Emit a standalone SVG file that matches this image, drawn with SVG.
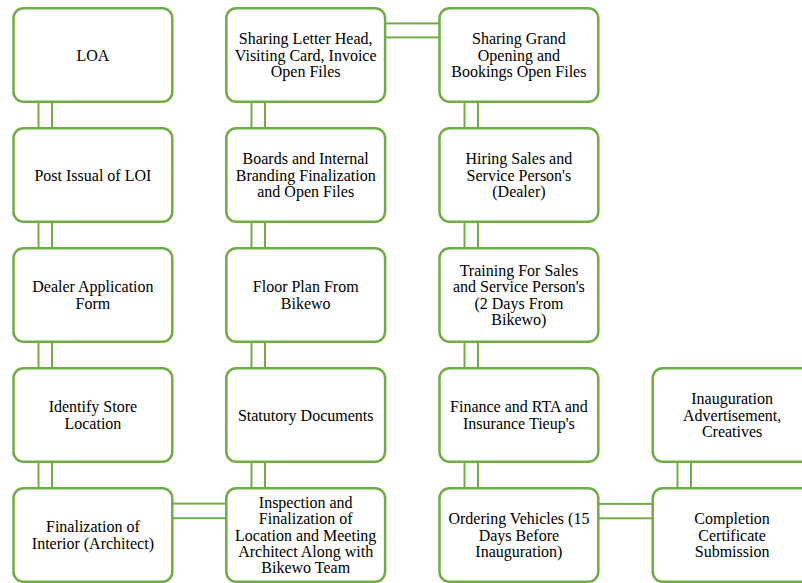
<svg xmlns="http://www.w3.org/2000/svg" width="802" height="583" viewBox="0 0 802 583">
<defs>
<style>
.box{fill:#ffffff;stroke:#70ad47;stroke-width:2.5}
.pipe{fill:#ffffff;stroke:#70ad47;stroke-width:2}
</style>
</defs>
<rect x="0" y="0" width="802" height="583" fill="#ffffff"/>
<g id="connectors">
<rect class="pipe" x="38.5" y="100" width="13.5" height="30"/>
<rect class="pipe" x="38.5" y="220" width="13.5" height="30"/>
<rect class="pipe" x="38.5" y="340" width="13.5" height="30"/>
<rect class="pipe" x="38.5" y="460" width="13.5" height="30"/>
<rect class="pipe" x="251.5" y="100" width="13.5" height="30"/>
<rect class="pipe" x="251.5" y="220" width="13.5" height="30"/>
<rect class="pipe" x="251.5" y="340" width="13.5" height="30"/>
<rect class="pipe" x="251.5" y="460" width="13.5" height="30"/>
<rect class="pipe" x="464.5" y="100" width="13.5" height="30"/>
<rect class="pipe" x="464.5" y="220" width="13.5" height="30"/>
<rect class="pipe" x="464.5" y="340" width="13.5" height="30"/>
<rect class="pipe" x="464.5" y="460" width="13.5" height="30"/>
<rect class="pipe" x="677.5" y="460" width="13.5" height="30"/>
<rect class="pipe" x="383" y="23.4" width="59" height="14"/>
<rect class="pipe" x="170" y="503.6" width="59" height="14.6"/>
<rect class="pipe" x="596" y="503.9" width="59" height="14.4"/>
</g>
<g font-family="Liberation Serif, Times New Roman, serif" font-size="16" text-anchor="middle" fill="#000000">
<g id="n1"><rect class="box" x="13.5" y="8.25" width="158.8" height="93.5" rx="10"/><text x="92.9" y="60.5">LOA</text></g>
<g id="n2"><rect class="box" x="13.5" y="128.25" width="158.8" height="93.5" rx="10"/><text x="92.9" y="180.5">Post Issual of LOI</text></g>
<g id="n3"><rect class="box" x="13.5" y="248.25" width="158.8" height="93.5" rx="10"/><text x="92.9" y="292.4">Dealer Application</text><text x="92.9" y="308.6">Form</text></g>
<g id="n4"><rect class="box" x="13.5" y="368.25" width="158.8" height="93.5" rx="10"/><text x="92.9" y="412.4">Identify Store</text><text x="92.9" y="428.6">Location</text></g>
<g id="n5"><rect class="box" x="13.5" y="488.25" width="158.8" height="93.5" rx="10"/><text x="92.9" y="532.4">Finalization of</text><text x="92.9" y="548.6">Interior (Architect)</text></g>
<g id="n6"><rect class="box" x="226.3" y="488.25" width="158.8" height="93.5" rx="10"/><text x="305.7" y="508.1">Inspection and</text><text x="305.7" y="524.3">Finalization of</text><text x="305.7" y="540.5">Location and Meeting</text><text x="305.7" y="556.7">Architect Along with</text><text x="305.7" y="572.9">Bikewo Team</text></g>
<g id="n7"><rect class="box" x="226.3" y="368.25" width="158.8" height="93.5" rx="10"/><text x="305.7" y="420.5">Statutory Documents</text></g>
<g id="n8"><rect class="box" x="226.3" y="248.25" width="158.8" height="93.5" rx="10"/><text x="305.7" y="292.4">Floor Plan From</text><text x="305.7" y="308.6">Bikewo</text></g>
<g id="n9"><rect class="box" x="226.3" y="128.25" width="158.8" height="93.5" rx="10"/><text x="305.7" y="164.3">Boards and Internal</text><text x="305.7" y="180.5">Branding Finalization</text><text x="305.7" y="196.7">and Open Files</text></g>
<g id="n10"><rect class="box" x="226.3" y="8.25" width="158.8" height="93.5" rx="10"/><text x="305.7" y="44.3">Sharing Letter Head,</text><text x="305.7" y="60.5">Visiting Card, Invoice</text><text x="305.7" y="76.7">Open Files</text></g>
<g id="n11"><rect class="box" x="439.5" y="8.25" width="158.8" height="93.5" rx="10"/><text x="518.9" y="44.3">Sharing Grand</text><text x="518.9" y="60.5">Opening and</text><text x="518.9" y="76.7">Bookings Open Files</text></g>
<g id="n12"><rect class="box" x="439.5" y="128.25" width="158.8" height="93.5" rx="10"/><text x="518.9" y="164.3">Hiring Sales and</text><text x="518.9" y="180.5">Service Person's</text><text x="518.9" y="196.7">(Dealer)</text></g>
<g id="n13"><rect class="box" x="439.5" y="248.25" width="158.8" height="93.5" rx="10"/><text x="518.9" y="276.2">Training For Sales</text><text x="518.9" y="292.4">and Service Person's</text><text x="518.9" y="308.6">(2 Days From</text><text x="518.9" y="324.8">Bikewo)</text></g>
<g id="n14"><rect class="box" x="439.5" y="368.25" width="158.8" height="93.5" rx="10"/><text x="518.9" y="412.4">Finance and RTA and</text><text x="518.9" y="428.6">Insurance Tieup's</text></g>
<g id="n15"><rect class="box" x="439.5" y="488.25" width="158.8" height="93.5" rx="10"/><text x="518.9" y="524.3">Ordering Vehicles (15</text><text x="518.9" y="540.5">Days Before</text><text x="518.9" y="556.7">Inauguration)</text></g>
<g id="n16"><rect class="box" x="652.7" y="488.25" width="158.8" height="93.5" rx="10"/><text x="732.1" y="524.3">Completion</text><text x="732.1" y="540.5">Certificate</text><text x="732.1" y="556.7">Submission</text></g>
<g id="n17"><rect class="box" x="652.7" y="368.25" width="158.8" height="93.5" rx="10"/><text x="732.1" y="404.3">Inauguration</text><text x="732.1" y="420.5">Advertisement,</text><text x="732.1" y="436.7">Creatives</text></g>
</g>
</svg>
